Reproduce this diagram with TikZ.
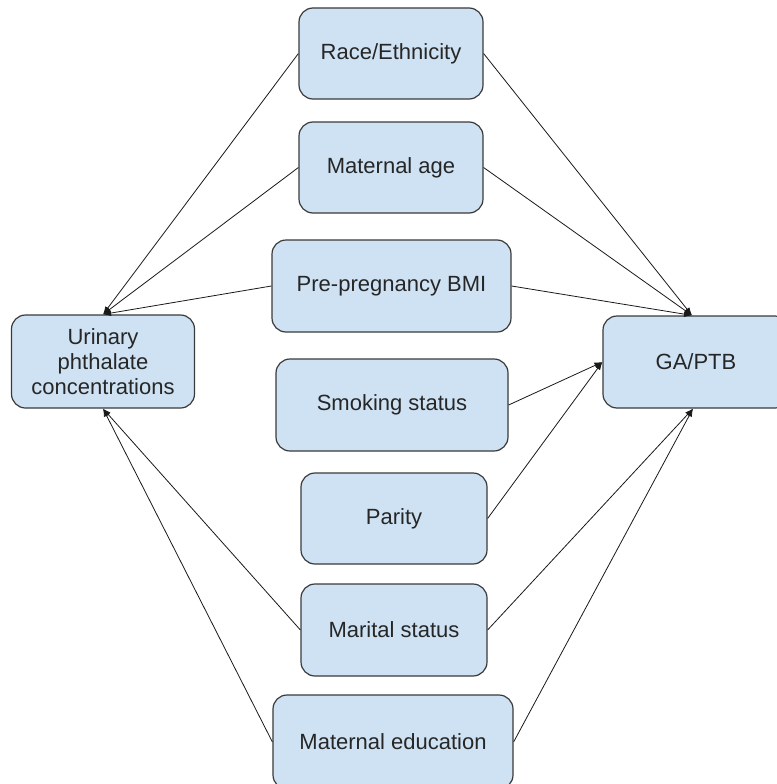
\documentclass[tikz,border=0pt]{standalone}
\usepackage{fontspec}
\setmainfont{Liberation Sans}
\usetikzlibrary{arrows.meta}
\definecolor{boxblue}{HTML}{CFE2F3}
\definecolor{boxline}{HTML}{3A3A3A}
\tikzset{
  var/.style={draw=boxline, fill=boxblue, line width=1.2pt, rounded corners=14pt,
    align=center, inner sep=0pt, text=black!85, font=\fontsize{22}{25}\selectfont},
  link/.style={-{Latex[length=8pt,width=6pt]}, line width=0.8pt, black!90}
}
\begin{document}
\begin{tikzpicture}[x=1pt,y=-1pt]
\useasboundingbox (0,0) rectangle (776,784);
\node[var,minimum width=184pt,minimum height=91pt] (race) at (391,53.5) {Race/Ethnicity};
\node[var,minimum width=184pt,minimum height=91pt] (age) at (391,167.5) {Maternal age};
\node[var,minimum width=239pt,minimum height=92pt] (bmi) at (391.5,286) {Pre-pregnancy BMI};
\node[var,minimum width=232pt,minimum height=92pt] (smoke) at (392,405) {Smoking status};
\node[var,minimum width=186pt,minimum height=91pt] (parity) at (394,518.5) {Parity};
\node[var,minimum width=186pt,minimum height=92pt] (marital) at (394,630) {Marital status};
\node[var,minimum width=240pt,minimum height=94pt] (edu) at (393,742) {Maternal education};
\node[var,minimum width=183pt,minimum height=93pt] (urine) at (103,361.5) {Urinary\\phthalate\\concentrations};
\node[var,minimum width=186pt,minimum height=92pt] (ga) at (696,362) {GA/PTB};
% confounders -> exposure
\draw[link] (race.west) -- (urine.north);
\draw[link] (age.west) -- (urine.north);
\draw[link] (bmi.west) -- (urine.north);
\draw[link] (marital.west) -- (urine.south);
\draw[link] (edu.west) -- (urine.south);
% confounders -> outcome
\draw[link] (race.east) -- ([xshift=-4pt]ga.north);
\draw[link] (age.east) -- ([xshift=-4pt]ga.north);
\draw[link] (bmi.east) -- ([xshift=-4pt]ga.north);
\draw[link] (smoke.east) -- (ga.west);
\draw[link] (parity.east) -- (ga.west);
\draw[link] (marital.east) -- ([xshift=-3pt]ga.south);
\draw[link] (edu.east) -- ([xshift=-3pt]ga.south);
\end{tikzpicture}
\end{document}
